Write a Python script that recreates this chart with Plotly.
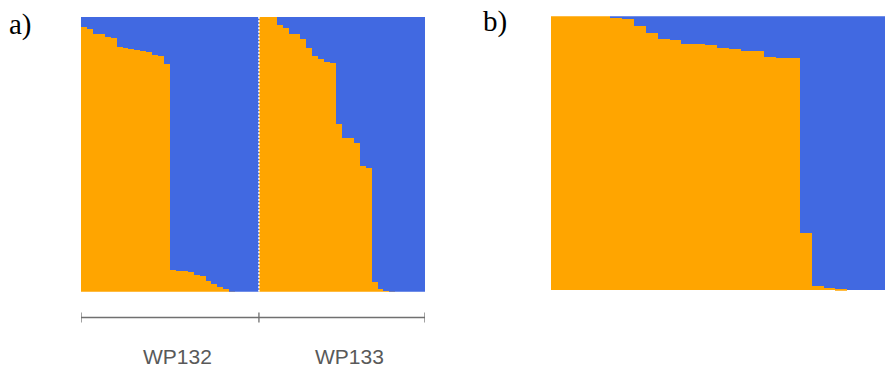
import plotly.graph_objects as go

# Panel a: ancestry proportions (orange cluster) per individual, two populations
wp132_orange = [0.964, 0.955, 0.939, 0.939, 0.927, 0.925, 0.890, 0.887, 0.882, 0.881,
                0.876, 0.873, 0.861, 0.858, 0.828, 0.081, 0.078, 0.076, 0.072, 0.064,
                0.058, 0.039, 0.028, 0.018, 0.010, 0.002, 0.0, 0.0, 0.0, 0.0]
wp133_orange = [1.0, 1.0, 1.0, 0.971, 0.961, 0.939, 0.937, 0.921, 0.888, 0.858,
                0.846, 0.836, 0.832, 0.612, 0.561, 0.561, 0.542, 0.458, 0.452, 0.036,
                0.012, 0.004, 0.002, 0.0, 0.0, 0.0, 0.0, 0.0]
group_labels = ["WP132", "WP133"]

# Panel b: ancestry proportions (orange cluster) per individual
b_orange = [1.0, 1.0, 1.0, 1.0, 1.0, 0.994, 0.988, 0.963, 0.937, 0.917,
            0.911, 0.899, 0.897, 0.895, 0.885, 0.879, 0.874, 0.872, 0.852, 0.846,
            0.846, 0.209, 0.017, 0.009, 0.004, 0.0, 0.0, 0.0, 0.0]

ORANGE = "#FFA500"
BLUE = "#4169E1"

W, H = 885, 379

a_orange = wp132_orange + wp133_orange
a_x = list(range(len(a_orange)))
b_x = list(range(len(b_orange)))

fig = go.Figure()

def add_stack(xs, vals, xaxis, yaxis):
    fig.add_trace(go.Bar(x=xs, y=vals, marker=dict(color=ORANGE, line=dict(width=0)),
                         xaxis=xaxis, yaxis=yaxis, showlegend=False, hoverinfo="skip"))
    fig.add_trace(go.Bar(x=xs, y=[1 - v for v in vals], marker=dict(color=BLUE, line=dict(width=0)),
                         xaxis=xaxis, yaxis=yaxis, showlegend=False, hoverinfo="skip"))

add_stack(a_x, a_orange, "x", "y")
add_stack(b_x, b_orange, "x2", "y2")

n1 = len(wp132_orange)
n_a = len(a_orange)
ydom_a = [1 - 291.7 / H, 1 - 16.5 / H]
ydom_b = [1 - 290.7 / H, 1 - 16.3 / H]
b_bar_px = 11.85
b_dom = [551 / W, 1.0]
b_span = (b_dom[1] - b_dom[0]) * W / b_bar_px

axis_common = dict(showgrid=False, zeroline=False, showticklabels=False, ticks="", showline=False)
fig.update_layout(
    width=W, height=H,
    margin=dict(l=0, r=0, t=0, b=0),
    paper_bgcolor="white", plot_bgcolor="white",
    barmode="stack", bargap=0,
    xaxis=dict(domain=[81 / W, 425 / W], range=[-0.5, n_a - 0.5], **axis_common),
    yaxis=dict(domain=ydom_a, range=[0, 1], **axis_common),
    xaxis2=dict(domain=b_dom, range=[-0.5, -0.5 + b_span], anchor="y2", **axis_common),
    yaxis2=dict(domain=ydom_b, range=[0, 1], anchor="x2", **axis_common),
)

# Dashed separator between the two populations
fig.add_shape(type="line", xref="x", yref="y", x0=n1 - 0.5, x1=n1 - 0.5, y0=0, y1=1,
              line=dict(color="white", width=1.5, dash="2px,1.5px"))

# Population bracket under panel a
yb = 1 - 317.5 / H
tick_half = 5 / H
bracket_color = "#707070"
fig.add_shape(type="line", xref="x", yref="paper", x0=-0.5, x1=n_a - 0.5, y0=yb, y1=yb,
              line=dict(color=bracket_color, width=1.3))
for xt in [-0.5, n1 - 0.5, n_a - 0.5]:
    fig.add_shape(type="line", xref="x", yref="paper", x0=xt, x1=xt,
                  y0=yb - tick_half, y1=yb + tick_half,
                  line=dict(color=bracket_color, width=1.3))

centers = [(n1 - 1) / 2, n1 + (n_a - n1 - 1) / 2]
for lab, cx in zip(group_labels, centers):
    fig.add_annotation(x=cx, y=1 - 356.5 / H, xref="x", yref="paper", text=lab,
                       showarrow=False, xshift=8, yanchor="middle",
                       font=dict(family="Liberation Sans, Arial, sans-serif", size=21, color="#595959"))

# Panel letters
for lab, px, py in [("a)", 7, 24), ("b)", 481, 21)]:
    fig.add_annotation(x=px / W, y=1 - py / H, xref="paper", yref="paper", text=lab,
                       showarrow=False, xanchor="left", yanchor="middle",
                       font=dict(family="Liberation Serif, Times New Roman, serif", size=29, color="black"))

fig.write_html("out.html")
